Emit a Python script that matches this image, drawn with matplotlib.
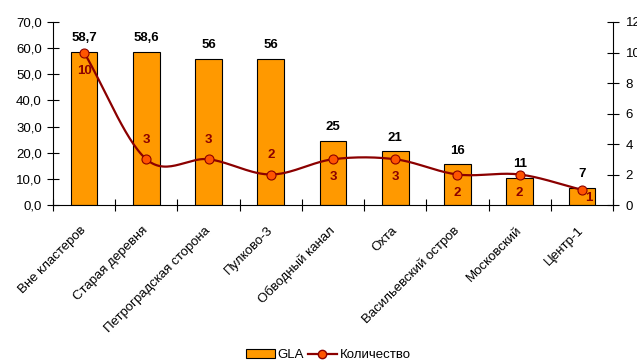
import numpy as np
import matplotlib
matplotlib.use("Agg")
import matplotlib.pyplot as plt
from matplotlib.patches import Patch
from matplotlib.lines import Line2D

plt.rcParams['font.family'] = ['Liberation Sans', 'DejaVu Sans']

categories = ["Вне кластеров", "Старая деревня", "Петроградская сторона", "Пулково-3",
              "Обводный канал", "Охта", "Васильевский остров", "Московский", "Центр-1"]
gla = [58.7, 58.6, 56, 56, 24.6, 20.5, 15.5, 10.3, 6.6]
gla_labels = ["58,7", "58,6", "56", "56", "25", "21", "16", "11", "7"]
count = [10, 3, 3, 2, 3, 3, 2, 2, 1]
left_ticks = [0, 10, 20, 30, 40, 50, 60, 70]
right_ticks = [0, 2, 4, 6, 8, 10, 12]


def catmull_rom(xs, ys, n=30):
    xs = np.asarray(xs, float); ys = np.asarray(ys, float)
    px = np.concatenate([[2*xs[0]-xs[1]], xs, [2*xs[-1]-xs[-2]]])
    py = np.concatenate([[2*ys[0]-ys[1]], ys, [2*ys[-1]-ys[-2]]])
    ox, oy = [], []
    for i in range(1, len(px)-2):
        t = np.linspace(0, 1, n, endpoint=False)
        for P, out in ((px, ox), (py, oy)):
            p0, p1, p2, p3 = P[i-1], P[i], P[i+1], P[i+2]
            out.extend(0.5*((2*p1) + (-p0+p2)*t + (2*p0-5*p1+4*p2-p3)*t**2
                            + (-p0+3*p1-3*p2+p3)*t**3))
    ox.append(xs[-1]); oy.append(ys[-1])
    return np.array(ox), np.array(oy)


fig = plt.figure(figsize=(6.37, 3.63), dpi=100)
ax = fig.add_axes([53/637, 1-205/363, 560/637, 183/363])
x = np.arange(len(categories))
ax.bar(x, gla, width=0.43, color="#FF9900", edgecolor="black", linewidth=0.8, zorder=2)
ax.set_xlim(-0.5, len(categories)-0.5)
ax.set_ylim(0, 70)
ax.set_yticks(left_ticks)
ax.set_yticklabels([f"{v:.1f}".replace(".", ",") for v in left_ticks], fontsize=9.5)
ax.set_xticks(np.arange(len(categories)+1)-0.5)
ax.set_xticklabels([])
ax.tick_params(axis='x', direction='inout', length=8)
ax.tick_params(axis='y', direction='inout', length=8, pad=4)
for s in ("top", "right"):
    ax.spines[s].set_visible(False)
for i, (v, lab) in enumerate(zip(gla, gla_labels)):
    ax.text(i, v + 3, lab, ha='center', va='bottom', fontsize=9.5, fontweight='bold')
for i, c in enumerate(categories):
    ax.annotate(c, xy=(i, 0), xytext=(-3, -14), textcoords='offset points',
                rotation=45, ha='right', va='top', fontsize=9.5, rotation_mode='anchor',
                annotation_clip=False)

ax2 = ax.twinx()
ax2.set_ylim(0, 12)
ax2.set_yticks(right_ticks)
ax2.set_yticklabels([str(v) for v in right_ticks], fontsize=9.5)
ax2.tick_params(axis='y', direction='inout', length=8, pad=5)
for s in ("top", "left", "bottom"):
    ax2.spines[s].set_visible(False)
sx, sy = catmull_rom(x, count)
ax2.plot(sx, sy, color="#8B0000", linewidth=1.6, zorder=3)
ax2.plot(x, count, linestyle='none', marker='o', markersize=6.5,
         markerfacecolor="#FF5500", markeredgecolor="#8B0000", markeredgewidth=0.8, zorder=4)
offsets = [(0, -13), (0, 14), (0, 14), (0, 14), (0, -13), (0, -13), (0, -13), (0, -13), (5, -6)]
for i, c in enumerate(count):
    ax2.annotate(str(c), xy=(i, c), xytext=offsets[i], textcoords='offset points',
                 ha='center', va='center', fontsize=9.5, fontweight='bold', color="#8B0000")

handles = [Patch(facecolor="#FF9900", edgecolor="black", linewidth=0.8),
           Line2D([0], [0], color="#8B0000", linewidth=1.6, marker='o', markersize=6,
                  markerfacecolor="#FF5500", markeredgecolor="#8B0000")]
fig.legend(handles, ["GLA", "Количество"], loc='center', bbox_to_anchor=(328/637, 1-355/363),
           ncol=2, frameon=False, fontsize=9.5, handlelength=2.2, handletextpad=0.2,
           columnspacing=0.3, borderpad=0)
fig.savefig("out.png", dpi=100)
